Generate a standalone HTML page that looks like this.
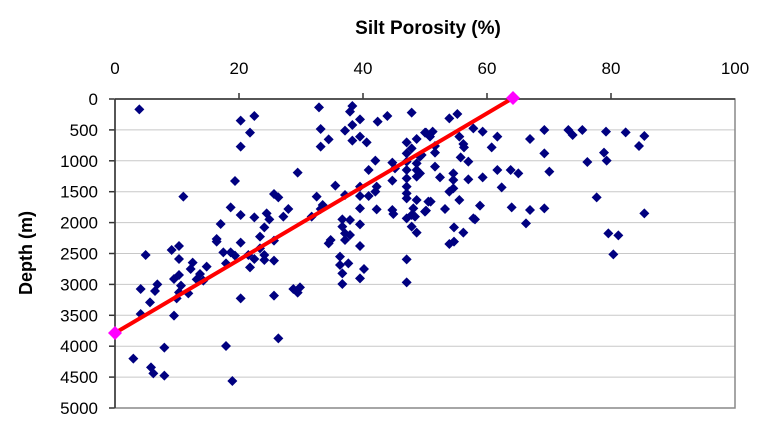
<!DOCTYPE html>
<html><head><meta charset="utf-8"><style>
body{margin:0;background:#fff;}
svg text{font-family:"Liberation Sans",Arial,sans-serif;}
</style></head><body>
<svg id="s" width="782" height="433" viewBox="0 0 782 433" xmlns="http://www.w3.org/2000/svg">
<text x="428" y="34" font-size="19" font-weight="bold" text-anchor="middle">Silt Porosity (%)</text>
<g font-size="17" text-anchor="middle">
<text x="115" y="74">0</text><text x="239" y="74">20</text><text x="363" y="74">40</text><text x="487" y="74">60</text><text x="611" y="74">80</text><text x="735" y="74">100</text>
</g>
<g font-size="17" text-anchor="end" id="yl"></g>
<text transform="translate(32,253) rotate(-90)" font-size="18" font-weight="bold" text-anchor="middle">Depth (m)</text>
<g id="grid"></g>
<rect x="115" y="99" width="620" height="309" fill="none" stroke="#888" stroke-width="1.5"/>
<line x1="115" y1="99" x2="735" y2="99" stroke="#333" stroke-width="1.5"/>
<line x1="115" y1="99" x2="115" y2="408" stroke="#333" stroke-width="1.5"/>
<g id="pts" fill="#000080"></g>
<line x1="115" y1="333" x2="513" y2="98" stroke="#f00" stroke-width="4"/>
<polygon points="115,326 122,333 115,340 108,333" fill="#f0f"/>
<polygon points="513,91 520,98 513,105 506,98" fill="#f0f"/>
</svg>
<script>
var NS="http://www.w3.org/2000/svg";
function el(p,t,a,txt){var e=document.createElementNS(NS,t);for(var k in a)e.setAttribute(k,a[k]);if(txt!=null)e.textContent=txt;document.getElementById(p).appendChild(e);}
for(var i=0;i<=10;i++){var y=99+i*30.9;
 if(i>0&&i<10)el("grid","line",{x1:115,x2:735,y1:y,y2:y,stroke:"#c8c8c8","stroke-width":1});
 el("grid","line",{x1:109,x2:115,y1:y,y2:y,stroke:"#333","stroke-width":1.5});
 el("yl","text",{x:98,y:y+6},String(i*500));}
[239,363,487,611].forEach(function(x){el("grid","line",{x1:x,x2:x,y1:93,y2:99,stroke:"#333","stroke-width":1.5});});
var z1=[[118,58],[422,92],[463,78],[450,128],[422,170],[657,52],[662,117],[686,148],[662,170],[757,48],[750,65],[757,105],[735,122],[757,152],[780,88],[780,140],[800,157],[833,95],[862,78],[935,68],[920,157],[975,128],[950,147],[935,175],[920,190],[960,200],[920,215],[950,220],[920,240],[950,240],[950,260],[920,265],[920,290],[920,310],[920,325],[950,330],[985,335],[940,355],[935,375],[920,385],[945,380],[975,365],[935,410],[950,428],[920,508],[920,577],[877,218],[885,235],[877,272],[826,212],[806,240],[780,290],[830,290],[826,305],[806,318],[780,318],[780,355],[830,358],[877,360],[880,372],[735,315],[706,287],[650,320],[668,345],[662,357],[635,380],[593,248],[727,388],[750,390],[780,403],[727,410],[735,430],[750,435],[735,450],[780,468],[692,450],[686,460],[720,500],[745,520],[720,525],[727,550],[792,537],[780,565],[727,582],[522,312],[535,322],[565,357],[550,380],[500,370],[508,388],[463,382],[422,375],[392,352],[405,273],[362,402],[350,447],[350,455],[370,487],[378,520],[392,487],[405,497],[422,458],[445,495],[450,532],[463,507],[480,440],[480,475],[493,412],[493,495],[493,510],[522,452],[522,512],[522,617],[535,745],[580,597],[600,592],[593,608],[422,625],[378,768],[397,873],[250,320],[137,495],[215,480],[237,468],[237,507],[278,518],[272,537],[300,552],[320,530],[290,568],[310,572],[222,567],[237,555],[243,587],[237,607],[230,625],[265,610],[222,677],[172,583],[165,603],[150,637],[122,597],[122,672],[193,773],[100,806],[153,832],[160,850],[193,857]];
var z2=[[88,85],[112,72],[18,128],[38,125],[30,140],[118,140],[160,115],[188,125],[232,140],[215,172],[130,162],[132,172],[45,168],[45,188],[5,195],[122,202],[145,215],[45,230],[0,250],[60,262],[100,250],[100,270],[145,268],[188,262],[232,240],[272,240],[295,250],[245,292],[100,295],[88,305],[118,330],[32,335],[18,362],[75,357],[180,347],[160,385],[165,388],[102,412],[130,428],[88,462],[102,455],[275,352],[330,360],[318,400],[373,355],[330,147],[373,120],[373,190],[388,245],[445,120],[458,135],[487,120],[502,216],[530,322],[558,125],[552,188],[560,212],[617,127],[657,168],[673,138],[673,370],[565,430],[595,436],[580,493]];
function d(x,y){var r=5;el("pts","polygon",{points:(x)+","+(y-r)+" "+(x+r)+","+y+" "+x+","+(y+r)+" "+(x-r)+","+y});}
z1.forEach(function(p){d(p[0]/3+100,p[1]/3+90);});
z2.forEach(function(p){d(p[0]/3+420,p[1]/3+90);});
</script>
</body></html>
